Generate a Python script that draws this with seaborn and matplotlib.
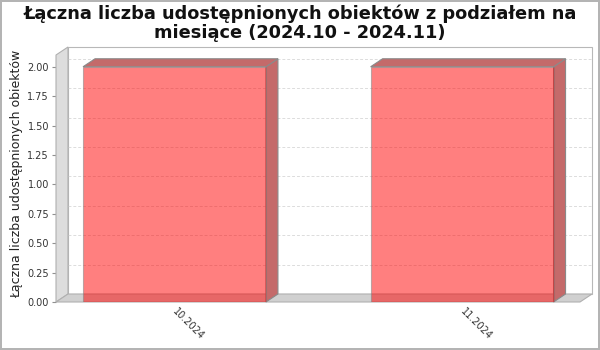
import matplotlib
matplotlib.use("Agg")
import matplotlib.pyplot as plt
import matplotlib.transforms as mtransforms
from matplotlib.patches import Polygon
import seaborn as sns
import pandas as pd

months = ["10.2024", "11.2024"]
counts = [2, 2]
yticks = [0.0, 0.25, 0.5, 0.75, 1.0, 1.25, 1.5, 1.75, 2.0]
title = "Łączna liczba udostępnionych obiektów z podziałem na\nmiesiące (2024.10 - 2024.11)"
ylabel = "Łączna liczba udostępnionych obiektów"

sns.set_theme(style="white")
plt.rcParams['font.family'] = ['DejaVu Sans']

W, H = 600, 350
DX, DY = 12, 8
fig = plt.figure(figsize=(6, 3.5), dpi=100)
fig.patch.set_facecolor("white")
fig.patch.set_edgecolor("#b4b4b4")
fig.patch.set_linewidth(1.5)

L, R, B, T = 56, 580, 302, 55
ax = fig.add_axes([L / W, (H - B) / H, (R - L) / W, (B - T) / H])
ax.set_facecolor("none")

df = pd.DataFrame({"month": months, "count": counts})
sns.barplot(data=df, x="month", y="count", color=(1, 0, 0), alpha=0.5,
            saturation=1, width=0.636, edgecolor="#808080", linewidth=0.8,
            ax=ax, zorder=5)
bars = list(ax.patches)

xmin, xmax = -0.412, 1.410
ymax = 2.10
ax.set_xlim(xmin, xmax)
ax.set_ylim(0, ymax)

for s in ax.spines.values():
    s.set_visible(False)

ident = mtransforms.IdentityTransform()
td = ax.transData


def P(x, y, back=False):
    px, py = td.transform((x, y))
    if back:
        px += DX
        py += DY
    return (px, py)


def poly(pts, fc, ec="#a0a0a0", z=1, lw=0.8):
    p = Polygon(pts, closed=True, facecolor=fc, edgecolor=ec, linewidth=lw,
                transform=ident, clip_on=False, zorder=z)
    ax.add_artist(p)

# back wall
poly([P(xmin, 0, True), P(xmax, 0, True), P(xmax, ymax, True), P(xmin, ymax, True)],
     "white", ec="#b8b8b8", z=0.5)
# gridlines on back wall
for t in yticks[1:]:
    a = P(xmin, t, True)
    b = P(xmax, t, True)
    ax.add_artist(plt.Line2D([a[0], b[0]], [a[1], b[1]], transform=ident,
                             color="#dcdcdc", lw=0.7, ls=(0, (3, 2)),
                             clip_on=False, zorder=0.6))
# left wall
poly([P(xmin, 0), P(xmin, 0, True), P(xmin, ymax, True), P(xmin, ymax)],
     "#dddddd", ec="#b0b0b0", z=0.7)
# floor
poly([P(xmin, 0), P(xmax, 0), P(xmax, 0, True), P(xmin, 0, True)],
     "#d0d0d0", ec="#b0b0b0", z=0.8)

# bar 3D faces from seaborn bars
for bar in bars:
    x0 = bar.get_x()
    x1 = x0 + bar.get_width()
    h = bar.get_height()
    poly([P(x1, 0), P(x1, 0, True), P(x1, h, True), P(x1, h)], "#c46a6a",
         ec="#8a8a8a", z=4)
    poly([P(x0, h), P(x1, h), P(x1, h, True), P(x0, h, True)], "#c46a6a",
         ec="#8a8a8a", z=4)

ax.set_yticks(yticks)
ax.set_yticklabels([f"{t:.2f}" for t in yticks])
ax.tick_params(axis="y", which="both", left=True, length=3, width=0.8,
               color="#909090", labelsize=7, labelcolor="#333333", pad=2)
ax.tick_params(axis="x", bottom=False, labelsize=7, labelcolor="#333333", pad=0)
for lab in ax.get_xticklabels():
    lab.set_rotation(-45)
    lab.set_ha("left")
    lab.set_va("center")
    lab.set_rotation_mode("anchor")
ax.set_xlabel("")
ax.set_ylabel(ylabel, fontsize=9, color="#222222", labelpad=6)
ax.yaxis.set_label_coords(-0.062, 0.518)

fig.text(0.5, 1 - 23 / H, title, ha="center", va="center", fontsize=12.8,
         fontweight="bold", color="#111111", linespacing=1.1)

fig.savefig("out.png", dpi=100)
